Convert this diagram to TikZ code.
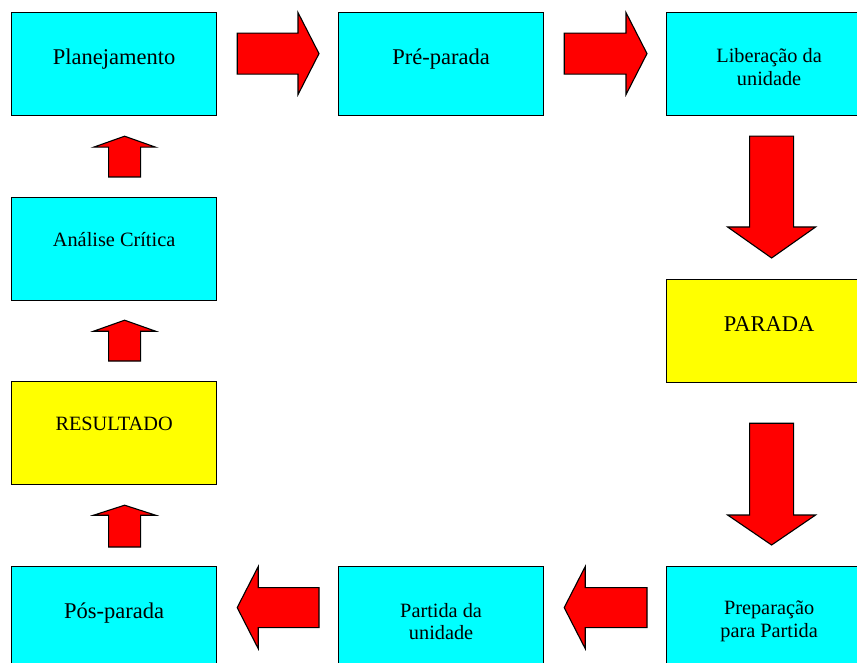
\documentclass[tikz,border=0pt]{standalone}
\usepackage{fontspec}
\setmainfont{Liberation Serif}
\newfontfamily\boxfont{Liberation Serif}
\usetikzlibrary{calc}
\definecolor{boxcyan}{RGB}{0,255,255}
\definecolor{boxyellow}{RGB}{255,255,0}
\definecolor{arrowred}{RGB}{255,0,0}
\newcommand\topstrut{\rule{0pt}{20.5pt}}
\tikzset{
 box/.style={draw=black, line width=1.2pt, minimum width=205pt, minimum height=103pt, inner sep=0pt, align=center, font=\boxfont\fontsize{20.3}{22.5}\selectfont, anchor=north west},
 cyanbox/.style={box, fill=boxcyan},
 yellowbox/.style={box, fill=boxyellow},
 big/.style={font=\boxfont\fontsize{22.5}{24}\selectfont, text height=10pt, text depth=10pt},
 oneline/.style={text height=8pt, text depth=13pt},
 blockarrow/.style={fill=arrowred, draw=black, line width=1.1pt, line join=miter},
}
\newcommand\blockarr[5]{%
 \path (#1) coordinate (bA) (#2) coordinate (bB);
 \path ($(bB)!#5!(bA)$) coordinate (bH);
 \draw[blockarrow] ($(bA)!#3!90:(bB)$) -- ($(bH)!#3!-90:(bA)$) -- ($(bH)!#4!-90:(bA)$) -- (bB) -- ($(bH)!#4!90:(bA)$) -- ($(bH)!#3!90:(bA)$) -- ($(bA)!#3!-90:(bB)$) -- cycle;
}
\begin{document}
\begin{tikzpicture}[x=1pt,y=-1pt]
\useasboundingbox (0,0) rectangle (857,663);
\clip (0,0) rectangle (857,663);
\node[cyanbox,big] (plan) at (11,12) {Planejamento};
\node[cyanbox,big] (pre) at (338,12) {Pré-parada};
\node[cyanbox] (lib) at (666,12) {\topstrut Liberação da\\unidade};
\node[yellowbox,big] (parada) at (666,279) {PARADA};
\node[cyanbox] (prep) at (666,566) {\topstrut Preparação\\para Partida};
\node[cyanbox] (part) at (338,566) {\topstrut Partida da\\unidade};
\node[cyanbox,big] (pos) at (11,566) {Pós-parada};
\node[yellowbox,oneline] (res) at (11,381) {RESULTADO};
\node[cyanbox,oneline] (ana) at (11,197) {Análise Crítica};
% right arrows
\blockarr{$(plan.east)+(20,-10.5)$}{$(pre.west)+(-19,-10.5)$}{20.5pt}{41pt}{21pt}
\blockarr{$(pre.east)+(20,-10.5)$}{$(lib.west)+(-19,-10.5)$}{20.5pt}{41pt}{21pt}
% down arrows
\blockarr{$(lib.south)+(2.5,20)$}{$(parada.north)+(2.5,-21)$}{22pt}{44pt}{31pt}
\blockarr{$(parada.south)+(2.5,40)$}{$(prep.north)+(2.5,-21)$}{22pt}{44pt}{30pt}
% left arrows
\blockarr{$(prep.west)+(-19,-10.5)$}{$(part.east)+(20,-10.5)$}{20pt}{41pt}{21pt}
\blockarr{$(part.west)+(-19,-10.5)$}{$(pos.east)+(20,-10.5)$}{20pt}{41pt}{21pt}
% up arrows
\blockarr{$(pos.north)+(10.5,-19)$}{$(res.south)+(10.5,20)$}{16pt}{31pt}{10pt}
\blockarr{$(res.north)+(10.5,-20)$}{$(ana.south)+(10.5,19)$}{16pt}{31pt}{11pt}
\blockarr{$(ana.north)+(10.5,-20)$}{$(plan.south)+(10.5,20)$}{16pt}{31pt}{11pt}
\end{tikzpicture}
\end{document}
